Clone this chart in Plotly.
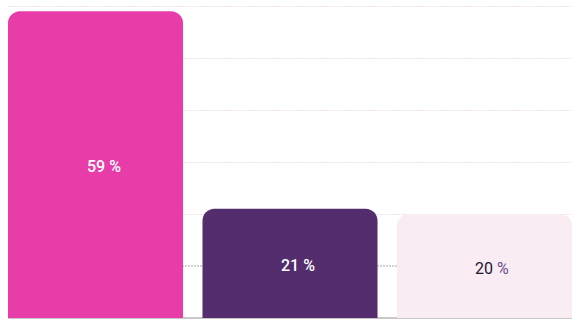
import plotly.graph_objects as go

categories = ["A", "B", "C"]
values = [59, 21, 20]
labels = ["59 %", "21 %", "20 <span style='color:#6b4c8c'>%</span>"]
bar_colors = ["#E83CA9", "#532D6D", "#F9ECF3"]
text_colors = ["#FFFFFF", "#FFFFFF", "#1E1433"]
text_weights = [500, 500, 400]

fig = go.Figure()
fig.add_trace(go.Bar(
    x=categories, y=values,
    marker=dict(color=bar_colors, line=dict(width=0)),
    hoverinfo="skip",
))
for c, v, lab, col, w in zip(categories, values, labels, text_colors, text_weights):
    fig.add_annotation(x=c, y=v / 2, text=lab, showarrow=False,
                       xshift=8, yshift=-2,
                       font=dict(family="Roboto", size=16, color=col, weight=w))
fig.add_shape(type="line", xref="paper", yref="y", x0=0, x1=1, y0=10, y1=10,
              line=dict(color="#a8a8a8", width=1, dash="2px,1px"), layer="below")
fig.update_layout(
    width=581, height=325,
    margin=dict(l=8, r=9, t=5, b=7),
    paper_bgcolor="white", plot_bgcolor="white",
    bargap=0.1, barcornerradius=12,
    showlegend=False,
    xaxis=dict(range=[-0.45, 2.45], showticklabels=False, showgrid=False,
               zeroline=False, showline=False, fixedrange=True),
    yaxis=dict(range=[0, 60.2], tickvals=[20, 30, 40, 50, 60], showticklabels=False, showgrid=True,
               gridcolor="#F3DFEA", griddash="2px,1px", gridwidth=1,
               zeroline=True, zerolinecolor="#c8c8c8", zerolinewidth=2,
               showline=False, fixedrange=True),
)
fig.write_html("out.html")
